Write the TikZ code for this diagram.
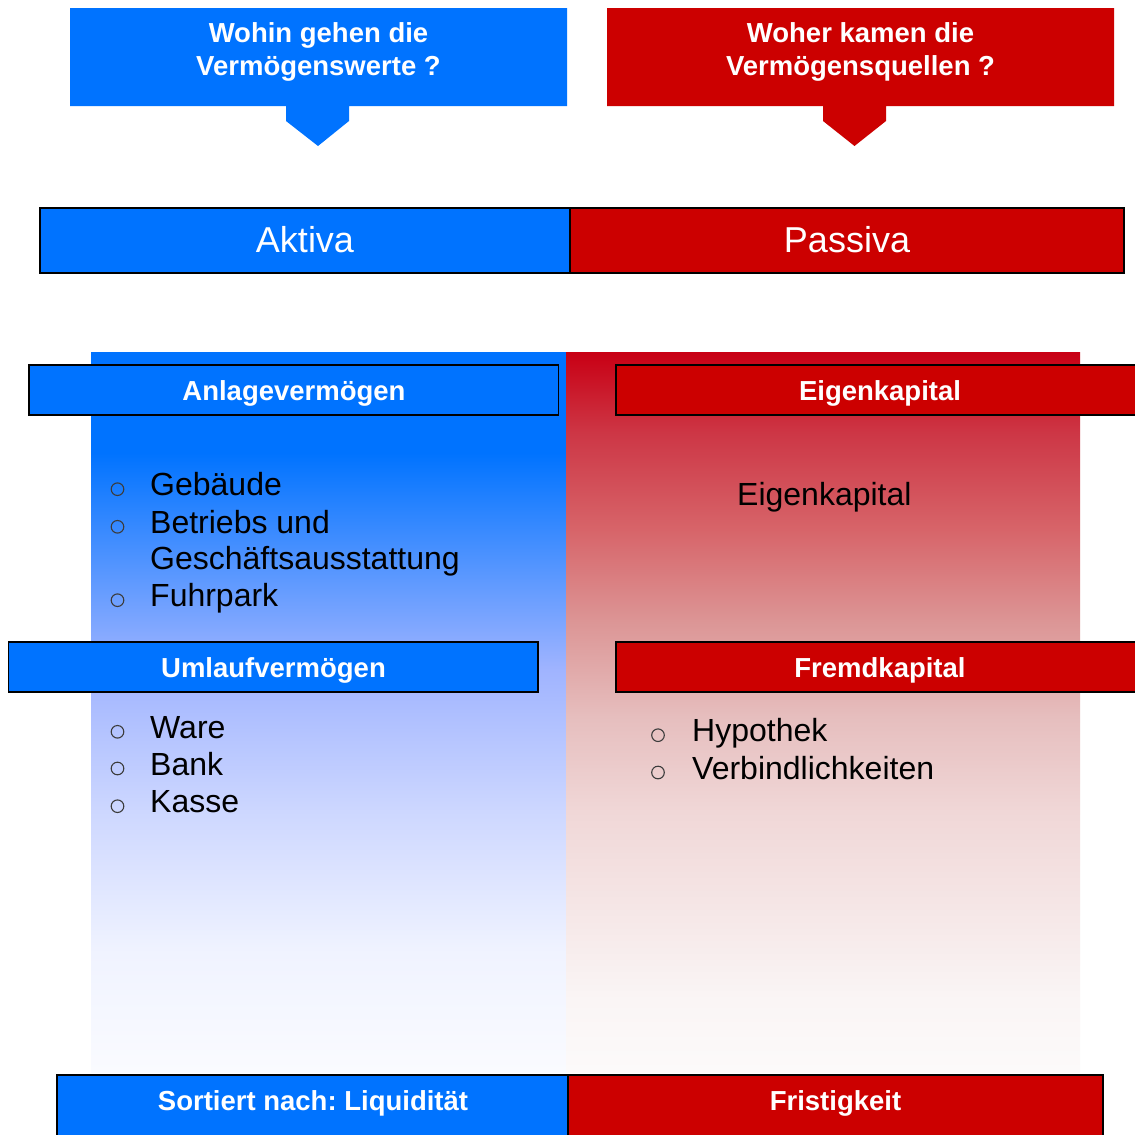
\documentclass[tikz,border=0pt]{standalone}
\usepackage{fontspec}
\setmainfont{Liberation Sans}
\frenchspacing
\definecolor{cblue}{RGB}{0,115,255}
\definecolor{cred}{RGB}{204,0,0}
\definecolor{bulc}{RGB}{60,60,60}
\definecolor{bA}{RGB}{250,251,255}
\definecolor{bB}{RGB}{240,243,255}
\definecolor{bC}{RGB}{205,215,255}
\definecolor{bD}{RGB}{160,180,255}
\definecolor{rA}{RGB}{252,250,250}
\definecolor{rB}{RGB}{250,245,245}
\definecolor{rC}{RGB}{245,230,230}
\definecolor{rD}{RGB}{240,215,215}
\definecolor{rE}{RGB}{230,190,190}
\definecolor{rF}{RGB}{220,150,150}
\definecolor{rG}{RGB}{215,100,105}
\definecolor{rH}{RGB}{205,55,70}
\definecolor{rI}{RGB}{200,0,20}
\pgfdeclareverticalshading{blueshade}{100bp}{color(0bp)=(bA); color(25bp)=(bA); color(33.3bp)=(bB); color(43.1bp)=(bC); color(52.9bp)=(bD); color(68bp)=(cblue); color(75bp)=(cblue); color(100bp)=(cblue)}
\pgfdeclareverticalshading{redshade}{100bp}{color(0bp)=(rA); color(25bp)=(rA); color(30bp)=(rB); color(36.5bp)=(rC); color(43.1bp)=(rD); color(49.65bp)=(rE); color(56.2bp)=(rF); color(62.7bp)=(rG); color(69.3bp)=(rH); color(75bp)=(rI); color(100bp)=(rI)}
\begin{document}
\begin{tikzpicture}[x=1pt,y=-1pt,
  hdr/.style={font=\fontsize{27.5}{33}\selectfont\bfseries, text=white, anchor=base, inner sep=0pt},
  big/.style={font=\fontsize{36}{40}\selectfont, text=white, anchor=base, inner sep=0pt},
  item/.style={font=\fontsize{32}{37}\selectfont, text=black, anchor=base west, inner sep=0pt},
  bar/.style={draw=black, line width=1.5pt},
  bul/.style={draw=bulc, line width=1.1pt}]
\clip (0,0) rectangle (1135,1135);
\fill[white] (0,0) rectangle (1135,1135);

% top callouts
\fill[cblue] (70,8) -- (567,8) -- (567,106) -- (349,106) -- (349,121) -- (318,146) -- (286,121) -- (286,106) -- (70,106) -- cycle;
\node[hdr] (q1a) at (318.5,42) {Wohin gehen die};
\node[hdr] (q1b) at (318.5,75) {Vermögenswerte ?};
\fill[cred] (607,8) -- (1114,8) -- (1114,106) -- (886,106) -- (886,121) -- (854.5,146) -- (823,121) -- (823,106) -- (607,106) -- cycle;
\node[hdr] (q2a) at (860.5,42) {Woher kamen die};
\node[hdr] (q2b) at (860.5,75) {Vermögensquellen ?};

% Aktiva / Passiva bar
\filldraw[bar, fill=cblue] (40,208) rectangle (570,273);
\filldraw[bar, fill=cred] (570,208) rectangle (1124,273);
\node[big] (aktiva) at (305,252) {Aktiva};
\node[big] (passiva) at (847,252) {Passiva};

% gradient columns
\shade[shading=blueshade] (91,352) rectangle (566,1072);
\shade[shading=redshade] (566,352) rectangle (1080,1072);

% section headers
\filldraw[bar, fill=cblue] (29,365) rectangle (558.5,415);
\node[hdr] (anlage) at (294,400) {Anlagevermögen};
\filldraw[bar, fill=cred] (616,365) rectangle (1145,415);
\node[hdr] (eigen) at (880,400) {Eigenkapital};
\filldraw[bar, fill=cblue] (8.5,642) rectangle (538,692);
\node[hdr] (umlauf) at (273.5,677) {Umlaufvermögen};
\filldraw[bar, fill=cred] (616,642) rectangle (1145,692);
\node[hdr] (fremd) at (880,677) {Fremdkapital};

% Anlagevermoegen list
\draw[bul] (117.5,489.2) circle[radius=6.3pt];
\node[item] (t1) at (150,495.7) {Gebäude};
\draw[bul] (117.5,526.8) circle[radius=6.3pt];
\node[item] (t2) at (150,533.3) {Betriebs und};
\node[item] (t2b) at (150,569.5) {Geschäftsausstattung};
\draw[bul] (117.5,600.2) circle[radius=6.3pt];
\node[item] (t3) at (150,606.7) {Fuhrpark};

% Eigenkapital text
\node[item] (ek) at (737,505.7) {Eigenkapital};

% Umlaufvermoegen list
\draw[bul] (117.5,731.8) circle[radius=6.3pt];
\node[item] (u1) at (150,738.3) {Ware};
\draw[bul] (117.5,768.5) circle[radius=6.3pt];
\node[item] (u2) at (150,775) {Bank};
\draw[bul] (117.5,806.2) circle[radius=6.3pt];
\node[item] (u3) at (150,812.7) {Kasse};

% Fremdkapital list
\draw[bul] (658,735.2) circle[radius=6.3pt];
\node[item] (f1) at (692,741.7) {Hypothek};
\draw[bul] (658,772.5) circle[radius=6.3pt];
\node[item] (f2) at (692,779) {Verbindlichkeiten};

% bottom bar
\filldraw[bar, fill=cblue] (57,1075) rectangle (568,1145);
\filldraw[bar, fill=cred] (568,1075) rectangle (1103,1145);
\node[hdr] (sort) at (313,1110) {Sortiert nach: Liquidität};
\node[hdr] (frist) at (835.5,1110) {Fristigkeit};
\end{tikzpicture}
\end{document}
